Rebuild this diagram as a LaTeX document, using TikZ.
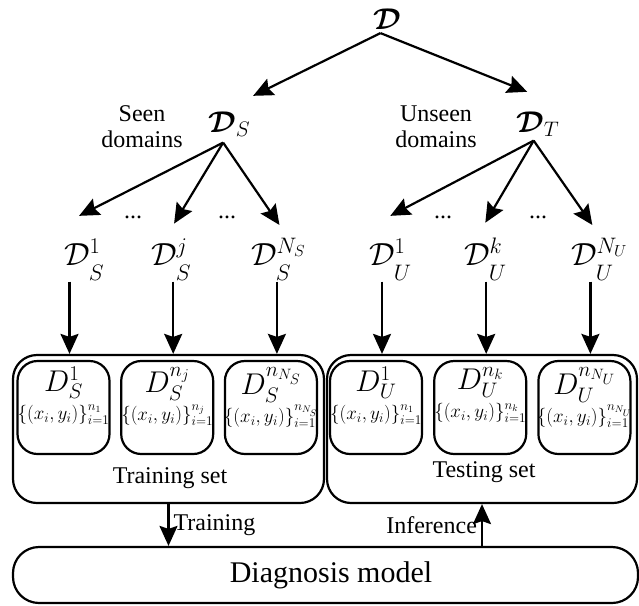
\RequirePackage{fix-cm}
\documentclass[tikz,border=0pt]{standalone}
\usepackage[no-math]{fontspec}
\setmainfont{Liberation Serif}
\usepackage{amsmath,bm}
\usetikzlibrary{arrows.meta}
\usetikzlibrary{positioning}
\newcommand{\dsub}[1]{\raisebox{-7.5pt}{$\scriptstyle #1$}}

\begin{document}
\begin{tikzpicture}[->,>={Stealth[length=20pt,width=18pt,inset=3pt]},line width=2.2pt,
			x=1pt,y=-1pt]
			\tikzstyle{lbl}=[inner sep=0pt,anchor=base west,font=\fontsize{32}{32}\selectfont]
			\tikzstyle{big}=[inner sep=0pt,anchor=base west,font=\fontsize{30}{30}\selectfont]
			\tikzstyle{txt}=[inner sep=0pt,align=center,font=\fontsize{24}{26}\selectfont]
			\tikzstyle{grp}=[draw,rounded corners=24pt,minimum width=311pt,minimum height=148pt]
			\tikzstyle{subset}=[draw,rounded corners=20pt,minimum width=92pt,minimum height=93pt]
			\tikzstyle{inset}=[inner sep=0pt,anchor=north,align=center,font=\fontsize{30}{28}\selectfont]
			
			\useasboundingbox (0,0) rectangle (639,605);
			
			\node[big]  (D)   at (372,29)  {$\boldsymbol{\mathcal{D}}$};
			\node[big]  (D_S) at (207,132) {$\boldsymbol{\mathcal{D}}_S$};
			\node[big]  (D_T) at (515,132) {$\boldsymbol{\mathcal{D}}_T$};
			\node[txt]  (seen)   at (142,127) {Seen\\domains};
			\node[txt]  (unseen) at (436,127) {Unseen\\domains};
			
			\node[lbl]  (S_1) at (63,265)  {$\mathcal{D}^{1}_{\dsub{S}}$};
			\node[lbl]  (S_j) at (150,265) {$\mathcal{D}^{j}_{\dsub{S}}$};
			\node[lbl]  (S_N) at (250,265) {$\mathcal{D}^{N_S}_{\dsub{S}}$};
			\node[lbl]  (U_1) at (368,265) {$\mathcal{D}^{1}_{\dsub{U}}$};
			\node[lbl]  (U_k) at (463,265) {$\mathcal{D}^{k}_{\dsub{U}}$};
			\node[lbl]  (U_N) at (570,265) {$\mathcal{D}^{N_U}_{\dsub{U}}$};
			\node[txt,anchor=base] (dots_1) at (133,218) {...};
			\node[txt,anchor=base] (dots_2) at (227,218) {...};
			\node[txt,anchor=base] (dots_3) at (443,218) {...};
			\node[txt,anchor=base] (dots_4) at (538,218) {...};
			
			\node[grp] (train) at (168.5,429) {};
			\node[grp,minimum width=310pt] (test) at (482,429) {};
			\node[subset] (B_1) at (63.5,407.5) {};
			\node[subset] (B_2) [right=9.5pt of B_1] {};
			\node[subset] (B_3) [right=9.5pt of B_2] {};
			\node[subset] (B_4) at (376,407.5) {};
			\node[subset] (B_5) [right=10pt of B_4] {};
			\node[subset] (B_6) [right=10pt of B_5] {};
			\node[inset] (L_1) at ([yshift=-6pt]B_1.north) {$D^{1}_{S}$\\{\fontsize{19}{19}\selectfont$\{(x_i,y_i)\}_{i=1}^{n_1}$}};
			\node[inset] (L_2) at ([yshift=-6pt]B_2.north) {$D^{n_j}_{S}$\\{\fontsize{19}{19}\selectfont$\{(x_i,y_i)\}_{i=1}^{n_j}$}};
			\node[inset] (L_3) at ([yshift=-6pt]B_3.north) {$D^{n_{N_S}}_{S}$\\{\fontsize{19}{19}\selectfont$\{(x_i,y_i)\}_{i=1}^{n_{N_S}}$}};
			\node[inset] (L_4) at ([yshift=-6pt]B_4.north) {$D^{1}_{U}$\\{\fontsize{19}{19}\selectfont$\{(x_i,y_i)\}_{i=1}^{n_1}$}};
			\node[inset] (L_5) at ([yshift=-6pt]B_5.north) {$D^{n_k}_{U}$\\{\fontsize{19}{19}\selectfont$\{(x_i,y_i)\}_{i=1}^{n_k}$}};
			\node[inset] (L_6) at ([yshift=-6pt]B_6.north) {$D^{n_{N_U}}_{U}$\\{\fontsize{19}{19}\selectfont$\{(x_i,y_i)\}_{i=1}^{n_{N_U}}$}};
			\node[txt] (train_lbl) at (170,478) {Training set};
			\node[txt] (test_lbl)  at (484,472) {Testing set};
			
			\node[draw,rounded corners=26pt,minimum width=625pt,minimum height=56pt,
			font=\fontsize{30}{30}\selectfont] (model) at (325.5,575) {\hspace*{11pt}Diagnosis model};
			
			\path ([xshift=-6.5pt,yshift=-3pt]D.south) edge ([xshift=24pt,yshift=14.5pt]D_S.north)
			([xshift=-6.5pt,yshift=-3pt]D.south) edge ([xshift=-10.5pt,yshift=18.5pt]D_T.north)
			([xshift=-6pt,yshift=-5pt]D_S.south) edge ([xshift=-5pt,yshift=22pt]S_1.north)
			([xshift=-6pt,yshift=-5pt]D_S.south) edge ([xshift=3pt,yshift=14pt]S_j.north)
			([xshift=-6pt,yshift=-5pt]D_S.south) edge ([xshift=1pt,yshift=12pt]S_N.north)
			([xshift=-4pt,yshift=-3pt]D_T.south) edge ([xshift=0pt,yshift=22pt]U_1.north)
			([xshift=-4pt,yshift=-3pt]D_T.south) edge ([xshift=0pt,yshift=14pt]U_k.north)
			([xshift=-4pt,yshift=-3pt]D_T.south) edge ([xshift=-7pt,yshift=12pt]U_N.north);
			
			\path ([xshift=6pt]B_1.north |- S_1.south) edge ([xshift=6pt]B_1.north |- train.north)
			([xshift=6pt]B_2.north |- S_j.south) edge ([xshift=6pt]B_2.north |- train.north)
			([xshift=6pt]B_3.north |- S_N.south) edge ([xshift=6pt]B_3.north |- train.north)
			([xshift=6pt]B_4.north |- U_1.south) edge ([xshift=6pt]B_4.north |- test.north)
			([xshift=6pt]B_5.north |- U_k.south) edge ([xshift=6pt]B_5.north |- test.north)
			([xshift=6pt]B_6.north |- U_N.south) edge ([xshift=6pt]B_6.north |- test.north);
			
			\path (train.south) edge node[right,txt,inner sep=4pt] {Training} (train.south |- model.north)
			(test.south |- model.north) edge node[left,txt,inner sep=4pt] {Inference} (test.south);
			
			;
			\end{tikzpicture}
\end{document}
